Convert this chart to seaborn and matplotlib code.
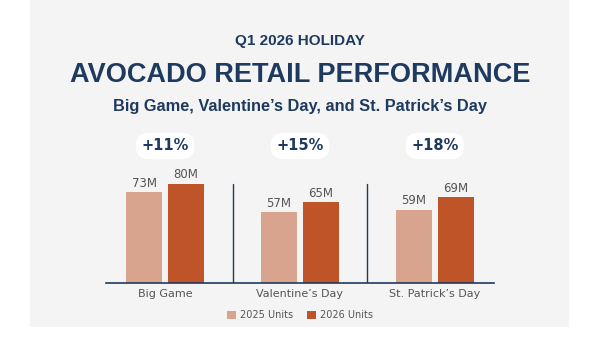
import matplotlib
matplotlib.use("Agg")
import matplotlib.pyplot as plt
from matplotlib.patches import Rectangle
import pandas as pd
import seaborn as sns

holidays = ["Big Game", "Valentine\u2019s Day", "St. Patrick\u2019s Day"]
units_2025 = [73, 57, 59]
units_2026 = [80, 65, 69]
growth_labels = ["+11%", "+15%", "+18%"]
series_names = ["2025 Units", "2026 Units"]

navy = "#1F3A5F"
grey_txt = "#555555"
colors = ["#D9A48E", "#BE5427"]

df = pd.DataFrame({
    "holiday": holidays * 2,
    "units": units_2025 + units_2026,
    "series": [series_names[0]] * 3 + [series_names[1]] * 3,
})

sns.set_style("white")
plt.rcParams["font.family"] = ["DejaVu Sans"]

fig = plt.figure(figsize=(6, 3.37), dpi=100)
fig.patch.set_facecolor("white")
fig.patches.append(Rectangle((0.05, 0.03), 0.898, 0.97, transform=fig.transFigure,
                             facecolor="#F4F4F4", edgecolor="none", zorder=-5))

title_font = ["Liberation Sans", "DejaVu Sans"]
fig.text(0.5, 1 - 41 / 337, "Q1 2026 HOLIDAY", ha="center", va="center",
         fontsize=11, fontweight="bold", color=navy, family=title_font)
fig.text(0.5, 1 - 75 / 337, "AVOCADO RETAIL PERFORMANCE", ha="center", va="center",
         fontsize=19.5, fontweight="bold", color=navy, family=title_font)
fig.text(0.5, 1 - 107 / 337, "Big Game, Valentine\u2019s Day, and St. Patrick\u2019s Day",
         ha="center", va="center", fontsize=11.8, fontweight="bold", color=navy,
         family=title_font)

ax = fig.add_axes([106 / 600, (337 - 283) / 337, 388 / 600, 124 / 337])
ax.set_facecolor("none")
sns.barplot(data=df, x="holiday", y="units", hue="series", palette=colors,
            saturation=1, width=0.62, gap=0.14, linewidth=0, ax=ax)
ax.set_ylim(0, 100)
ax.set_xlim(-0.44, 2.44)

for cont in ax.containers:
    ax.bar_label(cont, fmt="{:.0f}M", padding=2, fontsize=8.5, color=grey_txt)

for i, lab in enumerate(growth_labels):
    ax.text(i, 1.105, lab, transform=ax.get_xaxis_transform(), ha="center", va="center",
            fontsize=10.5, fontweight="bold", color=navy,
            bbox=dict(boxstyle="round,pad=0.38,rounding_size=0.85", facecolor="white",
                      edgecolor="none"))

for x in [0.5, 1.5]:
    ax.axvline(x, ymin=0, ymax=0.8, color=navy, lw=1)

for s in ["top", "right", "left"]:
    ax.spines[s].set_visible(False)
ax.spines["bottom"].set_color(navy)
ax.spines["bottom"].set_linewidth(1.2)
ax.set_yticks([])
ax.set_xlabel("")
ax.set_ylabel("")
ax.tick_params(axis="x", length=0, pad=4, labelsize=8, labelcolor=grey_txt)

handles, labels = ax.get_legend_handles_labels()
ax.get_legend().remove()
fig.legend(handles, labels, loc="center", bbox_to_anchor=(0.5, 1 - 315 / 337), ncol=2,
           frameon=False, fontsize=7, labelcolor=grey_txt, handlelength=0.9,
           handleheight=0.9, handletextpad=0.4, columnspacing=1.5)

fig.savefig("out.png", dpi=100)
